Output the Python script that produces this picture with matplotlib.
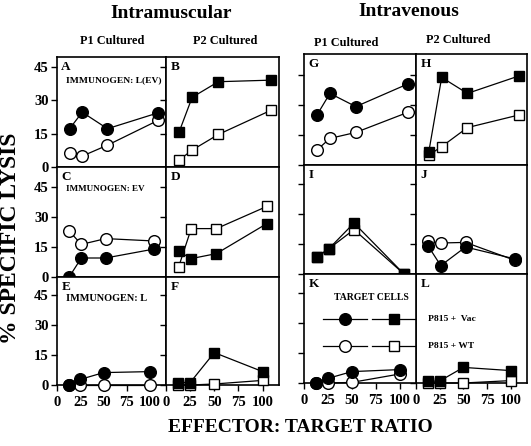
import matplotlib
matplotlib.use("Agg")
import matplotlib.pyplot as plt

plt.rcParams['font.family'] = ['Liberation Serif', 'DejaVu Serif']
plt.rcParams['font.weight'] = 'bold'

# ---------------- data ----------------
ratios = [12.5, 25, 50, 100]
x_ticks = [0, 25, 50, 75, 100]
y_ticks = [0, 15, 30, 45]

A_filled = [17.2, 24.6, 17.2, 24.3]; A_open = [6.4, 4.9, 9.8, 20.9]
B_filled = [15.7, 31.3, 38.3, 39.0]; B_open = [3.1, 7.6, 14.6, 25.4]
C_filled = [0, 9.5, 9.5, 14.0];      C_open = [23.0, 16.3, 19.2, 18.0]
D_filled = [12.8, 9.2, 11.7, 26.7];  D_open = [5.0, 24.2, 24.2, 35.3]
E_filled = [0, 2.8, 6.2, 6.7];       E_open = [0, 0, 0, 0]
F_filled = [1.2, 1.2, 16.2, 6.7];    F_open = [0, 0, 0.5, 2.3]
G_filled = [25.0, 35.8, 29.2, 40.5]; G_open = [7.5, 13.3, 16.3, 26.3]
H_filled = [6.7, 43.8, 35.8, 44.5];  H_open = [5.0, 9.2, 18.7, 25.0]
I_filled = [8.3, 12.7, 25.5, 0];     I_open = [8.3, 12.7, 22.2, 0]
J_filled = [13.8, 4.2, 13.5, 7.5];   J_open = [16.3, 15.5, 15.8, 6.8]
K_filled = [0, 2.3, 5.7, 6.7];       K_open = [0, 0, 0.3, 4.5]
L_filled = [0.8, 1.0, 7.8, 6.2];     L_open = [0, 0, 0, 1.2]

legend_labels = ['P815 +  Vac', 'P815 + WT']

panels = {
    'A': (A_filled, A_open, 'o', 'IMMUNOGEN: L(EV)'),
    'B': (B_filled, B_open, 's', None),
    'C': (C_filled, C_open, 'o', 'IMMUNOGEN: EV'),
    'D': (D_filled, D_open, 's', None),
    'E': (E_filled, E_open, 'o', 'IMMUNOGEN: L'),
    'F': (F_filled, F_open, 's', None),
    'G': (G_filled, G_open, 'o', None),
    'H': (H_filled, H_open, 's', None),
    'I': (I_filled, I_open, 's', None),
    'J': (J_filled, J_open, 'o', None),
    'K': (K_filled, K_open, 'o', None),
    'L': (L_filled, L_open, 's', None),
}

W, H = 531, 446
fig = plt.figure(figsize=(W / 100, H / 100), dpi=100)

def box(x0, x1, y0, y1):
    return [x0 / W, 1 - y1 / H, (x1 - x0) / W, (y1 - y0) / H]

left_cols = [(57, 166), (166, 279)]
left_rows = [(57, 167), (167, 277), (277, 385)]
right_cols = [(304, 416), (416, 527)]
right_rows = [(54, 165), (165, 274), (274, 383)]
row_xmax = [108, 112, 117]
left_ymax = [49.4, 55, 54]
right_ymax = [55.5, 54.5, 54.5]

layout = [
    ('A', left_cols[0], left_rows[0], 0, left_ymax[0], True),
    ('B', left_cols[1], left_rows[0], 0, left_ymax[0], False),
    ('C', left_cols[0], left_rows[1], 1, left_ymax[1], True),
    ('D', left_cols[1], left_rows[1], 1, left_ymax[1], False),
    ('E', left_cols[0], left_rows[2], 2, left_ymax[2], True),
    ('F', left_cols[1], left_rows[2], 2, left_ymax[2], False),
    ('G', right_cols[0], right_rows[0], 0, right_ymax[0], False),
    ('H', right_cols[1], right_rows[0], 0, right_ymax[0], False),
    ('I', right_cols[0], right_rows[1], 1, right_ymax[1], False),
    ('J', right_cols[1], right_rows[1], 1, right_ymax[1], False),
    ('K', right_cols[0], right_rows[2], 2, right_ymax[2], False),
    ('L', right_cols[1], right_rows[2], 2, right_ymax[2], False),
]

axes = {}
for name, (x0, x1), (y0, y1), row, ymax, ylab in layout:
    ax = fig.add_axes(box(x0, x1, y0, y1))
    axes[name] = ax
    filled, opened, mk, note = panels[name]
    ms = 8.4 if mk == 'o' else 7.8
    ax.plot(ratios, opened, marker=mk, color='black', lw=0.9, ms=ms,
            mfc='white', mec='black', mew=1.0, clip_on=False, zorder=3)
    ax.plot(ratios, filled, marker=mk, color='black', lw=0.9, ms=ms,
            mfc='black', mec='black', mew=1.0, clip_on=False, zorder=4)
    ax.set_xlim(0, row_xmax[row])
    ax.set_ylim(0, ymax)
    ax.set_xticks(x_ticks)
    ax.set_yticks(y_ticks)
    ax.tick_params(direction='out', length=4, width=1.0, labelsize=10.5, pad=2)
    if row != 2:
        ax.set_xticklabels([])
    else:
        ax.tick_params(axis='x', pad=4)
    if not ylab:
        ax.set_yticklabels([])
    for lab in ax.get_xticklabels() + ax.get_yticklabels():
        lab.set_fontweight('bold')
    for s in ax.spines.values():
        s.set_linewidth(1.2)
    ax.text(0.04, 0.96, name, transform=ax.transAxes, ha='left', va='top',
            fontsize=9.5, fontweight='bold')
    if note:
        fs = {'A': 6.8, 'C': 6.6, 'E': 7.4}[name]
        ax.text(0.08, 0.79 if name == 'A' else 0.80, note, transform=ax.transAxes,
                ha='left', va='center', fontsize=fs, fontweight='bold')

# legend inside K (drawn above panel L)
axK = axes['K']
axK.set_zorder(5)
axK.text(0.6, 0.78, 'TARGET CELLS', transform=axK.transAxes, ha='center',
         va='center', fontsize=7, fontweight='bold')
for yy, face, lab in [(0.587, 'black', legend_labels[0]), (0.34, 'white', legend_labels[1])]:
    axK.plot([0.17, 0.56], [yy, yy], color='black', lw=0.9,
             transform=axK.transAxes, clip_on=False)
    axK.plot([0.366], [yy], marker='o', ms=8.4, mfc=face, mec='black', mew=1.0,
             transform=axK.transAxes, clip_on=False, zorder=5)
    axK.plot([0.607, 0.99], [yy, yy], color='black', lw=0.9,
             transform=axK.transAxes, clip_on=False)
    axK.plot([0.80], [yy], marker='s', ms=7.8, mfc=face, mec='black', mew=1.0,
             transform=axK.transAxes, clip_on=False, zorder=5)
    axK.text(1.11, yy, lab, transform=axK.transAxes, ha='left', va='center',
             fontsize=6.8, fontweight='bold', clip_on=False)

# titles
fig.text(171 / W, 1 - 13 / H, 'Intramuscular', ha='center', va='center',
         fontsize=14, fontweight='bold')
fig.text(409 / W, 1 - 12 / H, 'Intravenous', ha='center', va='center',
         fontsize=14, fontweight='bold')
for cx, cy in [(112, 41), (225, 41), (346, 43), (458, 40)]:
    fig.text(cx / W, 1 - cy / H, 'P1 Cultured' if cx in (112, 346) else 'P2 Cultured',
             ha='center', va='center', fontsize=8.8, fontweight='bold')

fig.text(11 / W, 1 - 238 / H, '% SPECIFIC LYSIS', rotation=90, ha='center',
         va='center', fontsize=17, fontweight='bold')
fig.text(300 / W, 1 - 428 / H, 'EFFECTOR: TARGET RATIO', ha='center',
         va='center', fontsize=14, fontweight='bold')

fig.savefig('out.png', dpi=100)
